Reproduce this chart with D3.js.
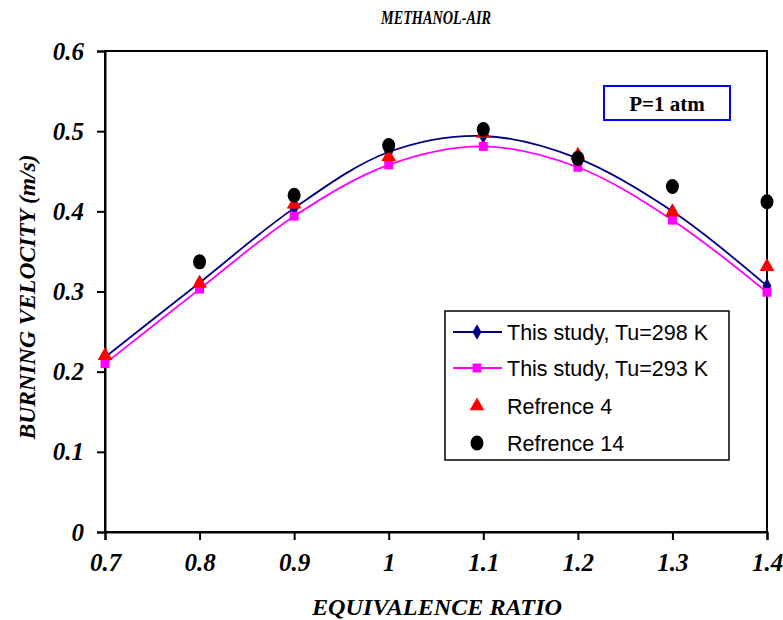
<!DOCTYPE html>
<html>
<head>
<meta charset="utf-8">
<script src="https://cdn.jsdelivr.net/npm/d3@7"></script>
<style>
  html, body { margin: 0; padding: 0; background: #fff; }
  svg { display: block; }
</style>
</head>
<body>
<svg id="chart" width="783" height="620"></svg>
<script>
// ---- data ----
const phi = [0.7, 0.8, 0.9, 1.0, 1.1, 1.2, 1.3, 1.4];
const study298 = [0.218, 0.311, 0.404, 0.474, 0.494, 0.466, 0.400, 0.307];
const study293 = [0.210, 0.303, 0.394, 0.458, 0.481, 0.455, 0.389, 0.299];
const ref4 = [0.220, 0.310, 0.409, 0.468, 0.497, 0.470, 0.399, 0.331];
const ref14Phi = [0.8, 0.9, 1.0, 1.1, 1.2, 1.3, 1.4];
const ref14 = [0.337, 0.420, 0.482, 0.502, 0.466, 0.431, 0.412];
const xTicks = [0.7, 0.8, 0.9, 1.0, 1.1, 1.2, 1.3, 1.4];
const xTickLabels = ["0.7", "0.8", "0.9", "1", "1.1", "1.2", "1.3", "1.4"];
const yTicks = [0, 0.1, 0.2, 0.3, 0.4, 0.5, 0.6];
const yTickLabels = ["0", "0.1", "0.2", "0.3", "0.4", "0.5", "0.6"];
const legendLabels = ["This study, Tu=298 K", "This study, Tu=293 K", "Refrence 4", "Refrence 14"];

// ---- layout ----
const svg = d3.select("#chart");
const L = 105, R = 767, T = 51, B = 532;
const x = d3.scaleLinear().domain([0.7, 1.4]).range([L, R]);
const y = d3.scaleLinear().domain([0, 0.6]).range([B, T]);
const serif = "'Liberation Serif', 'Times New Roman', serif";
const sans = "'Liberation Sans', Arial, sans-serif";
const navy = "#000080", magenta = "#FF00FF", red = "#FF0000";

// frame
svg.append("rect").attr("x", L).attr("y", T).attr("width", R - L).attr("height", B - T)
  .attr("fill", "none").attr("stroke", "#000").attr("stroke-width", 2);

// axes
const xAxis = svg.append("g").attr("transform", `translate(0,${B})`)
  .call(d3.axisBottom(x).tickValues(xTicks).tickSize(8).tickPadding(13)
    .tickFormat((d, i) => xTickLabels[i]));
const yAxis = svg.append("g").attr("transform", `translate(${L},0)`)
  .call(d3.axisLeft(y).tickValues(yTicks).tickSize(8).tickPadding(13)
    .tickFormat((d, i) => yTickLabels[i]));
[xAxis, yAxis].forEach(g => {
  g.select(".domain").attr("stroke", "#000").attr("stroke-width", 2);
  g.selectAll(".tick line").attr("stroke", "#000").attr("stroke-width", 2);
  g.selectAll(".tick text").attr("fill", "#000")
    .style("font-family", serif).style("font-size", "25px")
    .style("font-weight", "bold").style("font-style", "italic");
});

// lines
const line = d3.line().x(d => x(d[0])).y(d => y(d[1])).curve(d3.curveCatmullRom.alpha(0.5));
const s298 = phi.map((p, i) => [p, study298[i]]);
const s293 = phi.map((p, i) => [p, study293[i]]);
svg.append("path").datum(s298).attr("d", line).attr("fill", "none")
  .attr("stroke", navy).attr("stroke-width", 1.8);
svg.append("path").datum(s293).attr("d", line).attr("fill", "none")
  .attr("stroke", magenta).attr("stroke-width", 1.8);

const diamond = d3.symbol().type(d3.symbolDiamond).size(70);
const square = d3.symbol().type(d3.symbolSquare).size(80);
const tri = d3.symbol().type(d3.symbolTriangle).size(95);

svg.append("g").selectAll("path").data(s298).join("path")
  .attr("d", diamond).attr("transform", d => `translate(${x(d[0])},${y(d[1])})`).attr("fill", navy);
svg.append("g").selectAll("path").data(s293).join("path")
  .attr("d", square).attr("transform", d => `translate(${x(d[0])},${y(d[1])})`).attr("fill", magenta);
svg.append("g").selectAll("path").data(phi.map((p, i) => [p, ref4[i]])).join("path")
  .attr("d", tri).attr("transform", d => `translate(${x(d[0])},${y(d[1])})`).attr("fill", red);
svg.append("g").selectAll("ellipse").data(ref14Phi.map((p, i) => [p, ref14[i]])).join("ellipse")
  .attr("cx", d => x(d[0])).attr("cy", d => y(d[1])).attr("rx", 6.5).attr("ry", 7.5).attr("fill", "#000");

// title and axis titles
svg.append("text").attr("x", 436).attr("y", 24).attr("text-anchor", "middle")
  .attr("textLength", 110).attr("lengthAdjust", "spacingAndGlyphs")
  .style("font-family", serif).style("font-size", "18px").style("font-weight", "bold").style("font-style", "italic")
  .text("METHANOL-AIR");
svg.append("text").attr("x", 437).attr("y", 615).attr("text-anchor", "middle")
  .attr("textLength", 250).attr("lengthAdjust", "spacingAndGlyphs")
  .style("font-family", serif).style("font-size", "24px").style("font-weight", "bold").style("font-style", "italic")
  .text("EQUIVALENCE RATIO");
svg.append("text").attr("transform", "translate(35,297) rotate(-90)").attr("text-anchor", "middle")
  .attr("textLength", 285).attr("lengthAdjust", "spacingAndGlyphs")
  .style("font-family", serif).style("font-size", "24px").style("font-weight", "bold").style("font-style", "italic")
  .text("BURNING VELOCITY (m/s)");

// pressure box
svg.append("rect").attr("x", 604).attr("y", 86).attr("width", 126).attr("height", 34)
  .attr("fill", "#fff").attr("stroke", "#0000FF").attr("stroke-width", 2);
svg.append("text").attr("x", 667).attr("y", 111).attr("text-anchor", "middle")
  .style("font-family", serif).style("font-size", "21px").style("font-weight", "bold")
  .text("P=1 atm");

// legend
const lg = svg.append("g");
lg.append("rect").attr("x", 445).attr("y", 311).attr("width", 284).attr("height", 149)
  .attr("fill", "#fff").attr("stroke", "#000").attr("stroke-width", 1.5);
const rows = [332, 368, 406, 443];
lg.append("line").attr("x1", 453).attr("x2", 502).attr("y1", rows[0]).attr("y2", rows[0]).attr("stroke", navy).attr("stroke-width", 1.8);
lg.append("path").attr("d", diamond).attr("transform", `translate(477,${rows[0]})`).attr("fill", navy);
lg.append("line").attr("x1", 453).attr("x2", 502).attr("y1", rows[1]).attr("y2", rows[1]).attr("stroke", magenta).attr("stroke-width", 1.8);
lg.append("path").attr("d", square).attr("transform", `translate(477,${rows[1]})`).attr("fill", magenta);
lg.append("path").attr("d", tri).attr("transform", `translate(477,${rows[2]})`).attr("fill", red);
lg.append("ellipse").attr("cx", 477).attr("cy", rows[3]).attr("rx", 6.5).attr("ry", 7.5).attr("fill", "#000");
lg.selectAll("text.lbl").data(legendLabels).join("text").attr("class", "lbl")
  .attr("x", 507).attr("y", (d, i) => rows[i]).attr("dy", "0.36em")
  .style("font-family", sans).style("font-size", "21.5px").text(d => d);
</script>
</body>
</html>
